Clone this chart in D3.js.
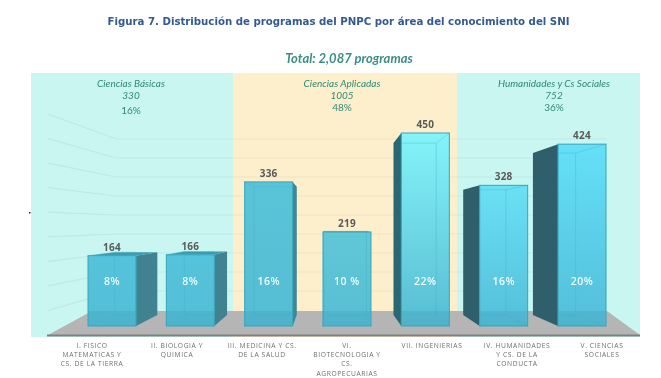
<!DOCTYPE html>
<html><head><meta charset="utf-8">
<script src="https://cdn.jsdelivr.net/npm/d3@7"></script>
<style>html,body{margin:0;background:#fff;overflow:hidden}svg{display:block;filter:blur(.4px)}</style>
</head><body><svg id="c" width="661" height="378"></svg>
<script>
const titleText = "Figura 7. Distribución de programas del PNPC por área del conocimiento del SNI";
const totalText = "Total: 2,087 programas";
const areaNames = ["Ciencias Básicas","Ciencias Aplicadas","Humanidades y Cs Sociales"];
const areaTotals = ["330","1005","752"];
const areaPcts = ["16%","48%","36%"];
const categories = ["I","II","III","VI","VII","IV","V"];
const categoryLines = [
 ["I. FISICO","MATEMATICAS Y","CS. DE LA TIERRA"],
 ["II. BIOLOGIA Y","QUIMICA"],
 ["III. MEDICINA Y CS.","DE LA SALUD"],
 ["VI.","BIOTECNOLOGIA Y","CS.","AGROPECUARIAS"],
 ["VII. INGENIERIAS"],
 ["IV. HUMANIDADES","Y CS. DE LA","CONDUCTA"],
 ["V. CIENCIAS","SOCIALES"]];
const values = [164,166,336,219,450,328,424];
const pctLabels = ["8%","8%","16%","10 %","22%","16%","20%"];
const topColors = ["#50c1da","#50c1da","#52c2d8","#5ac6d8","#80f4fb","#66e0f5","#60dff8"];
const bottomColors = ["#4fbcd6","#4fbcd6","#4fbbd4","#50bcd4","#50bad2","#50bcd8","#50bcd8"];
const sideColors = ["#40828f","#40828f","#3d8796","#3d8796","#2c6672","#2e5f6a","#2e5f6a"];
const gridTicks = [50,100,150,200,250,300,350,400,450];

const svg = d3.select("#c");
const defs = svg.append("defs");
const font = "Lato, 'Open Sans', sans-serif";

// scales
const areaEdges = [31,233,457,640];
const yBar = d3.scaleLinear().domain([0,450]).range([326,133]);
const yBack = d3.scaleLinear().domain([0,450]).range([310,139]);
const yWall = d3.scaleLinear().domain([0,450]).range([335,114]);
const xBar = d3.scaleBand().domain(categories).range([88,606]).paddingInner(30.33/78.33).paddingOuter(0);
const xLabel = d3.scalePoint().domain(categories).range([92,602]);
const wallL = 48, backL = 116, backR = 607, floorR = 640, floorBackL = 92;
const vx = 330, vy = 225, k = 0.89;
const px = x => vx + (x - vx) * k, py = y => vy + (y - vy) * k;

// panels
const panelFill = ["#c9f6f1","#feefcc","#c9f6f1"];
svg.selectAll("rect.panel").data(areaNames).join("rect").attr("class","panel")
  .attr("x",(d,i)=>areaEdges[i]).attr("width",(d,i)=>areaEdges[i+1]-areaEdges[i])
  .attr("y",73).attr("height",264).attr("fill",(d,i)=>panelFill[i]);

// grid
svg.selectAll("path.wall").data(gridTicks).join("path").attr("class","wall")
  .attr("d",t=>`M${wallL},${yWall(t)}L${backL},${yBack(t)}H${backR}`)
  .attr("fill","none").attr("stroke","#8a8a8a").attr("stroke-opacity",.13).attr("stroke-width",1.2);

// floor
svg.append("path").attr("fill","#b5b5b5")
  .attr("d",`M${wallL},335L${floorBackL},311H${backR}L${floorR},335Z`);
svg.append("rect").attr("x",wallL-1).attr("y",334.5).attr("width",floorR-wallL+1).attr("height",2).attr("fill","#808080");

// small speck at left
svg.append("rect").attr("x",29).attr("y",212).attr("width",1.5).attr("height",1.5).attr("fill","#222");

// bars
const g = svg.selectAll("g.bar").data(values).join("g").attr("class","bar");
g.each(function(v,i){
  const s = d3.select(this);
  const x0 = xBar(categories[i]), x1 = x0 + xBar.bandwidth(), yT = yBar(v), yB = yBar(0);
  const bx0 = px(x0), bx1 = px(x1), byT = py(yT), byB = py(yB);
  const id = "g"+i;
  const gr = defs.append("linearGradient").attr("id",id).attr("x1",0).attr("x2",0).attr("y1",0).attr("y2",1);
  gr.append("stop").attr("offset",0).attr("stop-color",topColors[i]);
  gr.append("stop").attr("offset",1).attr("stop-color",bottomColors[i]);
  const poly = p => "M"+p.map(q=>q.join(",")).join("L")+"Z";
  // visible side
  if (bx1 > x1 + 1) s.append("path").attr("d",poly([[x1,yT],[bx1,byT],[bx1,byB],[x1,yB]])).attr("fill",sideColors[i]);
  if (bx0 < x0 - 1) s.append("path").attr("d",poly([[x0,yT],[bx0,byT],[bx0,byB],[x0,yB]])).attr("fill",sideColors[i]);
  // top face when seen from above
  if (byT < yT) s.append("path").attr("d",poly([[x0,yT],[bx0,byT],[bx1,byT],[x1,yT]])).attr("fill","#3d9bb0");
  // front
  s.append("rect").attr("x",x0).attr("y",yT).attr("width",x1-x0).attr("height",yB-yT)
    .attr("fill",`url(#${id})`).attr("fill-opacity",.96);
  // floor show-through
  s.append("rect").attr("x",x0).attr("y",Math.max(yT,311)).attr("width",x1-x0).attr("height",yB-Math.max(yT,311))
    .attr("fill","#2f7f95").attr("fill-opacity",.12);
  // inner edges
  const inner = "#3fb0c6";
  s.append("path").attr("fill","none").attr("stroke",inner).attr("stroke-opacity",.45).attr("stroke-width",.8)
    .attr("d",`M${Math.max(bx0,x0)},${Math.min(byT,yB)}V${byB}H${Math.min(bx1,x1)}V${byT}H${Math.max(bx0,x0)}`
      +`M${x0},${yB}L${Math.max(bx0,x0)},${byB}M${x1},${yB}L${Math.min(bx1,x1)},${byB}`
      +`M${x0},${yT}L${Math.max(bx0,x0)},${byT}M${x1},${yT}L${Math.min(bx1,x1)},${byT}`);
  s.append("rect").attr("x",x0).attr("y",yT).attr("width",x1-x0).attr("height",yB-yT)
    .attr("fill","none").attr("stroke","#37a5bd").attr("stroke-width",1);
  // value + pct labels
  s.append("text").attr("x",(x0+x1)/2).attr("y",yT-5).attr("text-anchor","middle")
    .attr("font-family","'Open Sans',sans-serif").attr("font-weight",700).attr("font-size",10).attr("letter-spacing",.2).attr("fill","#5a5a5a").text(v);
  s.append("text").attr("x",(x0+x1)/2).attr("y",285).attr("text-anchor","middle")
    .attr("font-family","'Open Sans',sans-serif").attr("font-weight",600).attr("font-size",10.5).attr("letter-spacing",.5).attr("fill","#eefcfd").text(pctLabels[i]);
});

// title
svg.append("text").attr("x",338.5).attr("y",25).attr("text-anchor","middle")
  .attr("font-family","'DejaVu Sans',sans-serif").attr("font-weight",700).attr("font-size",10.2).attr("fill","#325a90").text(titleText);
svg.append("text").attr("x",349).attr("y",63).attr("text-anchor","middle")
  .attr("font-family",font).attr("font-style","italic").attr("font-weight",700).attr("font-size",13).attr("fill","#3a8f84").text(totalText);

// area headings
const areaX = [131,342,554], pctY = [114,111,111];
areaNames.forEach((n,i)=>{
  const t = (txt,y,st) => svg.append("text").attr("x",areaX[i]).attr("y",y).attr("text-anchor","middle")
    .attr("font-family",font).attr("font-size",10).attr("font-style",st).attr("fill","#2f8a78").text(txt);
  t(n,86.5,"italic"); t(areaTotals[i],99,"italic"); t(areaPcts[i],pctY[i],"normal");
});

// category labels
categoryLines.forEach((ls,i)=>{
  ls.forEach((l,j)=>{
    svg.append("text").attr("x",xLabel(categories[i])).attr("y",347.5+j*9.4).attr("text-anchor","middle")
      .attr("font-family","'Open Sans',sans-serif").attr("font-size",6.7).attr("letter-spacing",.6).attr("fill","#6e6e6e").text(l);
  });
});
</script></body></html>
